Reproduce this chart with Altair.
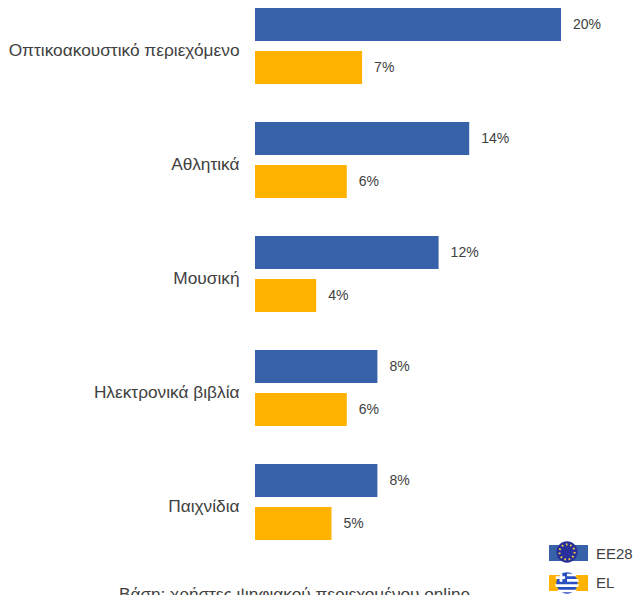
import altair as alt
import pandas as pd

categories = ["Οπτικοακουστικό περιεχόμενο", "Αθλητικά", "Μουσική", "Ηλεκτρονικά βιβλία", "Παιχνίδια"]
ee28 = [20, 14, 12, 8, 8]
el = [7, 6, 4, 6, 5]
series = ["EE28", "EL"]
colors = ["#3762A9", "#FFB300"]
footnote = "Βάση: χρήστες ψηφιακού περιεχομένου online"

FONT = "Liberation Sans"
GREY = "#404040"

rows = []
for c, a, b in zip(categories, ee28, el):
    rows.append({"cat": c, "series": "EE28", "value": a, "label": f"{a}%"})
    rows.append({"cat": c, "series": "EL", "value": b, "label": f"{b}%"})
df = pd.DataFrame(rows)

y_enc = alt.Y("cat:N", sort=categories, title=None,
              scale=alt.Scale(paddingInner=1/3, paddingOuter=0),
              axis=alt.Axis(ticks=False, domain=False, labelFontSize=17.3, labelFont=FONT,
                            labelColor=GREY, labelPadding=16, labelLimit=300, grid=False,
                            labelOffset=5))
yoff = alt.YOffset("series:N", sort=series, scale=alt.Scale(paddingInner=10/43, paddingOuter=0))
x_enc = alt.X("value:Q", title=None, axis=None, scale=alt.Scale(domain=[0, 378 / 15.3], nice=False))

bars = alt.Chart(df).mark_bar().encode(
    y=y_enc, yOffset=yoff, x=x_enc,
    color=alt.Color("series:N", sort=series, scale=alt.Scale(domain=series, range=colors),
                    legend=alt.Legend(orient="none", legendX=298, legendY=531, title=None,
                                      symbolType="M-1.3,-0.53H1.3V0.53H-1.3Z", symbolSize=900,
                                      symbolStrokeWidth=0, symbolOpacity=0,
                                      labelFontSize=15, labelFont=FONT,
                                      labelColor=GREY, labelOffset=13, rowPadding=6, padding=0)),
)
labels = alt.Chart(df).mark_text(align="left", baseline="middle", dx=12, font=FONT, fontSize=14,
                                 color=GREY).encode(
    y=y_enc, yOffset=yoff, x=x_enc, text="label:N")

one = pd.DataFrame({"a": [0]})
GREEK = ("M0,-0.778H0.63L0.83,-0.556H0Z"
         "M0,-0.333H0.94L0.99,-0.111H0Z"
         "M-0.99,0.111H0.99L0.94,0.333H-0.94Z"
         "M-0.83,0.556H0.83L0.63,0.778H-0.63Z"
         "M-0.62,-0.778H-0.38V-0.556H-0.16V-0.333H-0.38V-0.111H-0.62V-0.333H-0.94V-0.556H-0.62Z")

def dot(cx, cy, **kw):
    return alt.Chart(one).mark_point(**kw).encode(x=alt.value(cx), y=alt.value(cy))

def strip(x0, x1, y0, y1, fill):
    return alt.Chart(one).mark_rect(color=fill, opacity=1).encode(
        x=alt.value(x0), x2=alt.value(x1), y=alt.value(y0), y2=alt.value(y1))

eu_strip = strip(294, 333, 537, 553, colors[0])
gr_strip = strip(294, 333, 567, 583, colors[1])
eu_disc = dot(312, 544, filled=True, size=452, color="#27309A", opacity=1)
eu_ring = dot(312, 544, filled=False, size=230, color="#F4D03A", opacity=1, strokeWidth=2,
              strokeDash=[1.6, 2.7])
gr_disc = dot(312, 575, filled=True, size=452, color="#2A4FC0", opacity=1)
gr_bars = dot(312, 575, filled=True, shape=GREEK, size=576, color="#FFFFFF", opacity=1)
foot = alt.Chart(one).mark_text(text=footnote, align="left", baseline="alphabetic", font=FONT,
                                fontSize=17.2, color=GREY).encode(x=alt.value(-136), y=alt.value(592))

chart = alt.layer(bars, labels, eu_strip, gr_strip, eu_disc, eu_ring, gr_disc, gr_bars, foot).properties(
    width=378, height=532,
    autosize=alt.AutoSizeParams(type="none"),
    padding={"left": 247, "top": 0, "right": 0, "bottom": 55},
).configure_view(stroke=None)

chart.save("out.html", embed_options={"renderer": "svg", "actions": False})
